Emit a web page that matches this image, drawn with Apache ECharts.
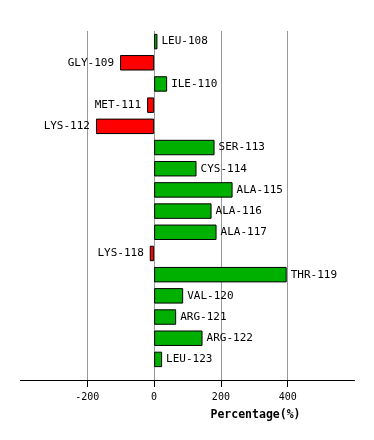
<!DOCTYPE html>
<html>
<head>
<meta charset="utf-8">
<script src="https://cdn.jsdelivr.net/npm/echarts@6/dist/echarts.min.js"></script>
<style>html,body{margin:0;padding:0;background:#fff}#c{width:374px;height:440px}</style>
</head>
<body>
<div id="c"></div>
<script>
var categories = ['LEU-108','GLY-109','ILE-110','MET-111','LYS-112','SER-113','CYS-114','ALA-115','ALA-116','ALA-117','LYS-118','THR-119','VAL-120','ARG-121','ARG-122','LEU-123'];
var values = [10, -102, 39, -21, -174, 181, 127, 235, 172, 187, -13, 397, 87, 66, 145, 24];
var tickValues = [-200, 0, 200, 400];

var chart = echarts.init(document.getElementById('c'));
var data = values.map(function (v, i) {
  return {
    value: v,
    itemStyle: { color: v >= 0 ? '#00b000' : '#ff0000' },
    label: { position: v >= 0 ? 'right' : 'left', distance: v >= 0 ? 4 : 6 }
  };
});
chart.setOption({
  animation: false,
  grid: [
    { left: 20.5, width: 334, top: 31, height: 339 },
    { left: 20.5, width: 334, top: 31, height: 349 }
  ],
  xAxis: [
    { gridIndex: 0, type: 'value', min: -400, max: 600, interval: 200, show: false },
    { gridIndex: 1, type: 'value', min: -400, max: 600, interval: 200,
      axisLine: { show: true, lineStyle: { color: '#000', width: 1 } },
      axisTick: { show: true, length: 7, lineStyle: { color: '#000' }, customValues: tickValues },
      axisLabel: { margin: 12, color: '#000', fontFamily: 'DejaVu Sans Mono', fontSize: 10, customValues: tickValues },
      splitLine: { show: true, showMinLine: true, showMaxLine: true, lineStyle: { color: '#999', width: 1 } },
      name: 'Percentage(%)', nameLocation: 'middle', nameGap: 29,
      nameTextStyle: { color: '#000', fontFamily: 'DejaVu Sans Mono', fontWeight: 'bold', fontSize: 11.5, padding: [0, 0, 0, 136] }
    }
  ],
  yAxis: [
    { gridIndex: 0, type: 'category', data: categories, inverse: true, show: false },
    { gridIndex: 1, type: 'value', show: false }
  ],
  series: [{
    type: 'bar', xAxisIndex: 0, yAxisIndex: 0,
    data: data,
    barCategoryGap: '27%',
    itemStyle: { borderColor: '#000', borderWidth: 1 },
    label: {
      show: true, color: '#000', fontFamily: 'DejaVu Sans Mono', fontSize: 11,
      formatter: function (p) { return p.name; }
    }
  }]
});
</script>
</body>
</html>
